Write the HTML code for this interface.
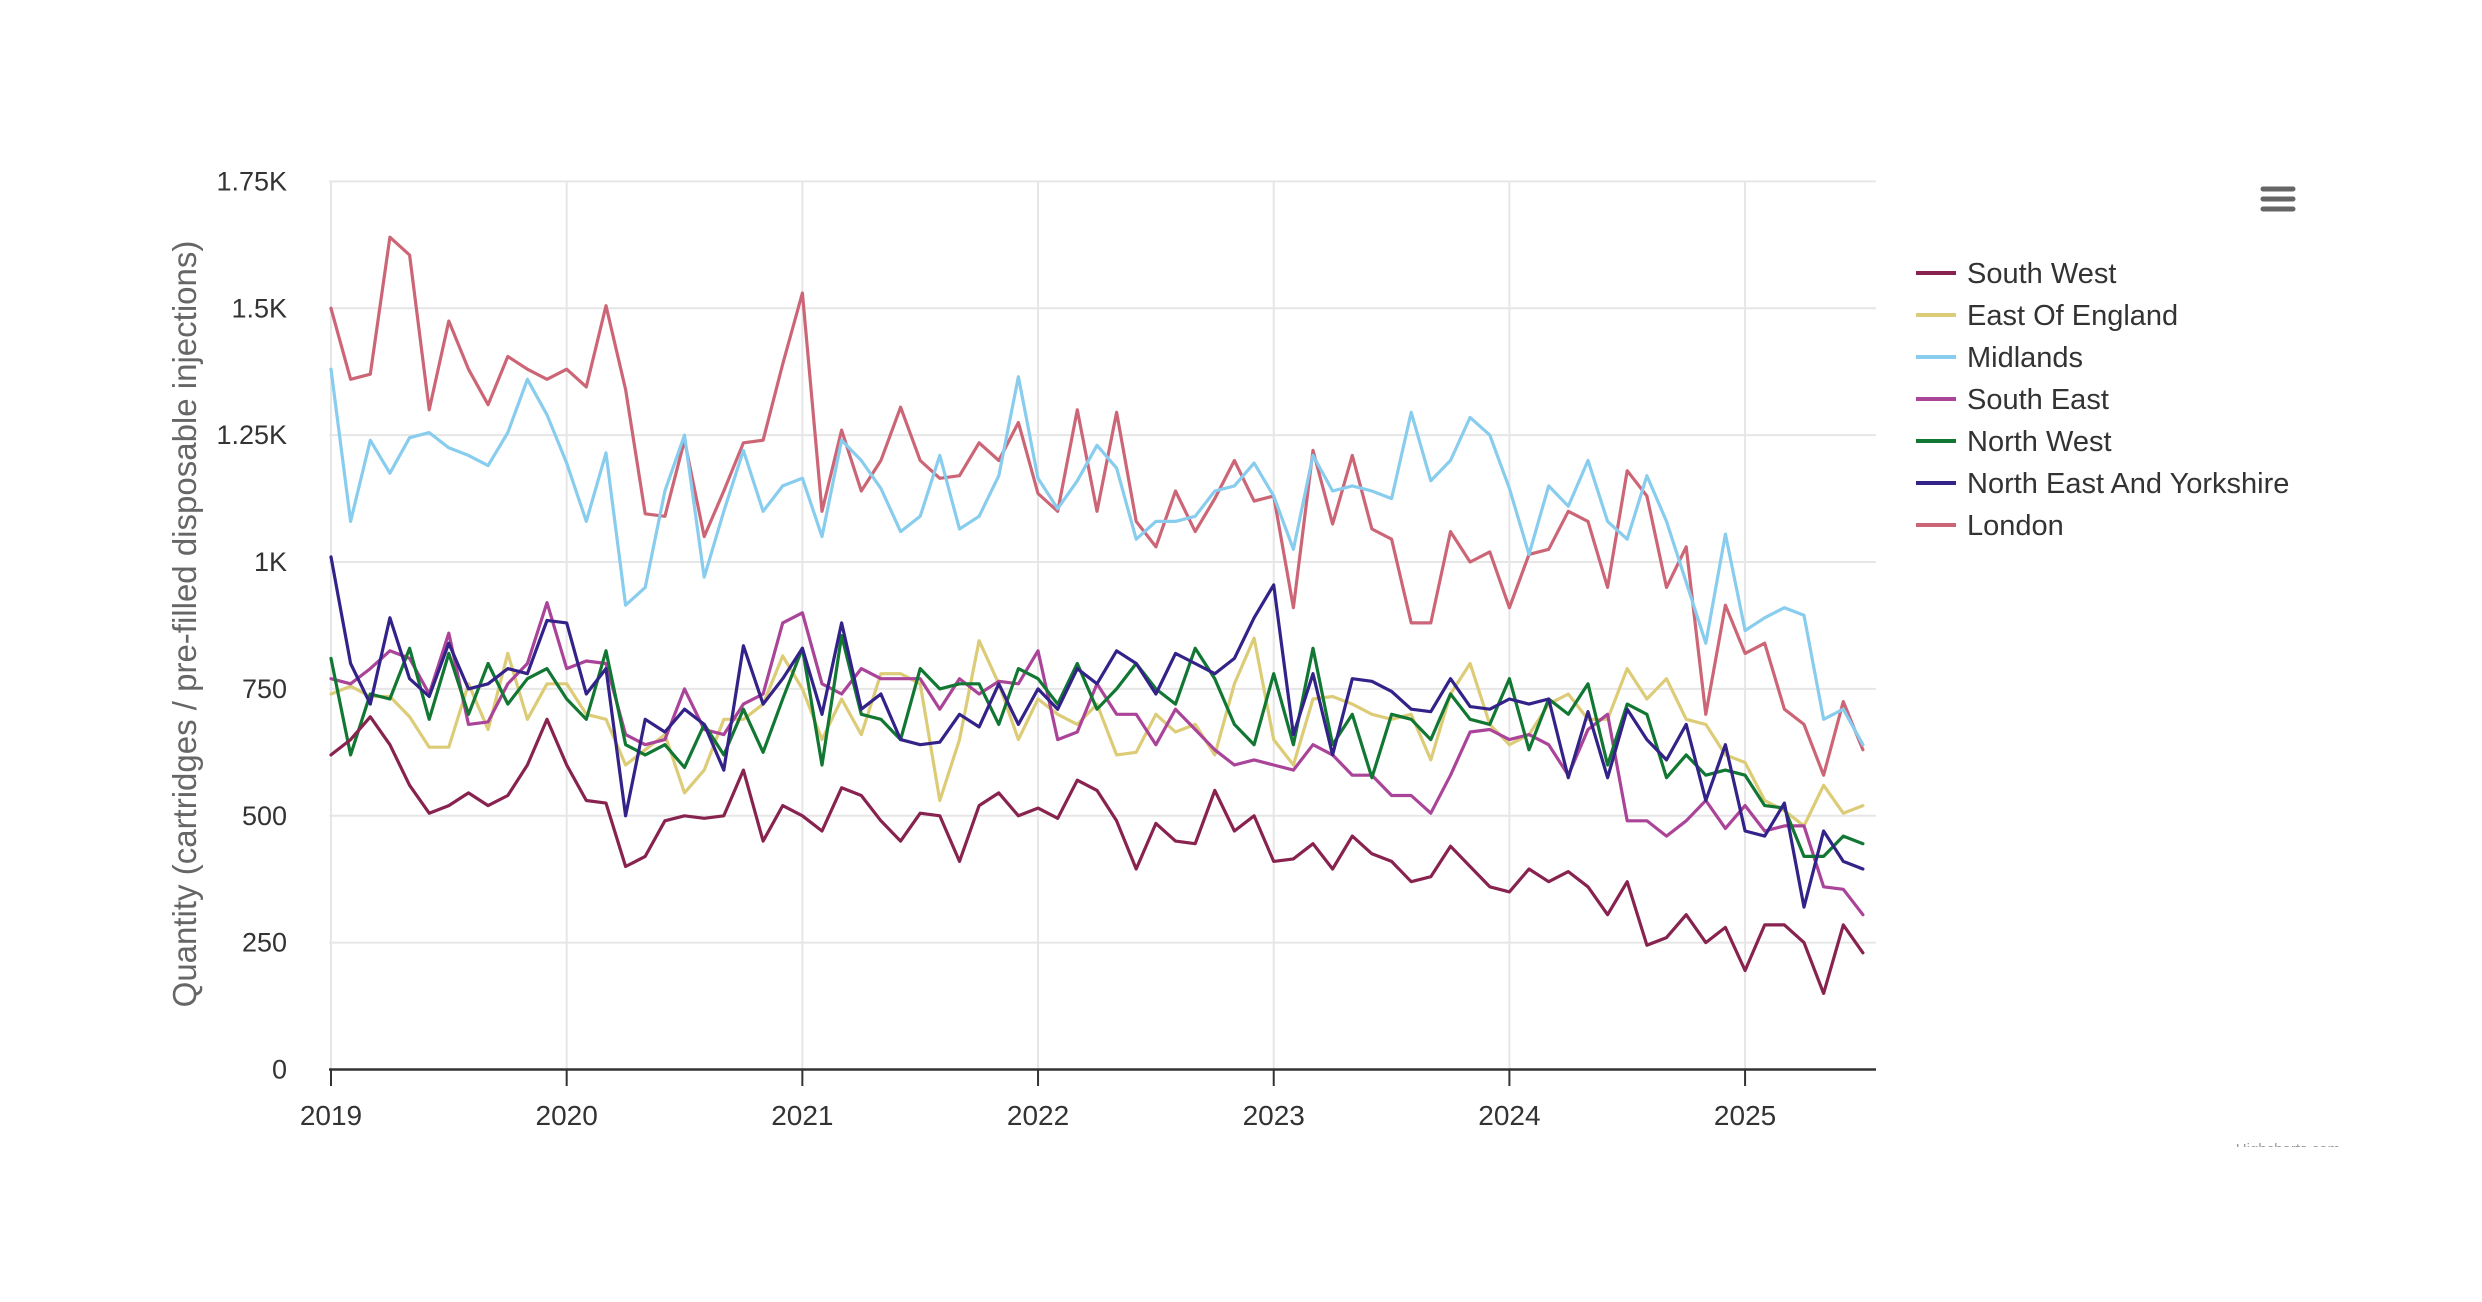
<!DOCTYPE html>
<html><head><meta charset="utf-8"><style>
html,body{margin:0;padding:0;background:#fff;}
svg{display:block;font-family:"Liberation Sans",sans-serif;}
</style></head><body>
<svg id="c" width="2482" height="1302" viewBox="0 0 2482 1302" xmlns="http://www.w3.org/2000/svg">
<rect width="2482" height="1302" fill="#fff"/>
<g id="grid" stroke="#e6e6e6" stroke-width="2"></g>
<g id="series" fill="none" stroke-width="3.2" stroke-linejoin="round" stroke-linecap="round"></g>
<line x1="329" y1="1069.5" x2="1876" y2="1069.5" stroke="#333" stroke-width="2.5"/>
<g id="ticks" stroke="#333" stroke-width="2"></g>
<g id="ylab" font-size="27" fill="#333" text-anchor="end"></g>
<g id="xlab" font-size="28" fill="#333" text-anchor="middle"></g>
<text transform="translate(196,624) rotate(-90)" text-anchor="middle" font-size="33" fill="#666">Quantity (cartridges / pre-filled disposable injections)</text>
<g font-size="29" fill="#333">
<line x1="1916" y1="273" x2="1956" y2="273" stroke="#88224f" stroke-width="4"/><text x="1967" y="283">South West</text>
<line x1="1916" y1="315" x2="1956" y2="315" stroke="#ddcc77" stroke-width="4"/><text x="1967" y="325">East Of England</text>
<line x1="1916" y1="357" x2="1956" y2="357" stroke="#88ccee" stroke-width="4"/><text x="1967" y="367">Midlands</text>
<line x1="1916" y1="399" x2="1956" y2="399" stroke="#aa4499" stroke-width="4"/><text x="1967" y="409">South East</text>
<line x1="1916" y1="441" x2="1956" y2="441" stroke="#117733" stroke-width="4"/><text x="1967" y="451">North West</text>
<line x1="1916" y1="483" x2="1956" y2="483" stroke="#332288" stroke-width="4"/><text x="1967" y="493">North East And Yorkshire</text>
<line x1="1916" y1="525" x2="1956" y2="525" stroke="#cc6677" stroke-width="4"/><text x="1967" y="535">London</text>
</g>
<g stroke="#666" stroke-width="5" stroke-linecap="round">
<line x1="2263" y1="189" x2="2293" y2="189"/><line x1="2263" y1="199" x2="2293" y2="199"/><line x1="2263" y1="209" x2="2293" y2="209"/>
</g>
<text x="2340" y="1154" font-size="15" fill="#999" text-anchor="end">Highcharts.com</text>
<rect x="2150" y="1147" width="250" height="20" fill="#fff"/>
</svg>
<script>
var NS="http://www.w3.org/2000/svg";
function el(p,t,a,txt){var e=document.createElementNS(NS,t);for(var k in a)e.setAttribute(k,a[k]);if(txt!==undefined)e.textContent=txt;document.getElementById(p).appendChild(e);}
var X0=331,DX=19.64,Y0=1069.5,SY=(1069.5-181.4)/1750;
function X(i){return X0+i*DX} function Y(v){return Y0-v*SY}
var yl=["0","250","500","750","1K","1.25K","1.5K","1.75K"];
for(var k=0;k<8;k++){var y=Y(k*250);if(k>0)el("grid","line",{x1:329,x2:1876,y1:y,y2:y});el("ylab","text",{x:287,y:y+9},yl[k]);}
for(var j=0;j<7;j++){var x=X(j*12);el("grid","line",{x1:x,x2:x,y1:181,y2:1070});el("ticks","line",{x1:x,x2:x,y1:1070,y2:1086});el("xlab","text",{x:x,y:1125},String(2019+j));}
var D={
"#cc6677":[1500,1360,1370,1640,1605,1300,1475,1380,1310,1405,1380,1360,1380,1345,1505,1340,1095,1090,1240,1050,1140,1235,1240,1390,1530,1100,1260,1140,1200,1305,1200,1165,1170,1235,1200,1275,1135,1100,1300,1100,1295,1080,1030,1140,1060,1125,1200,1120,1130,910,1220,1075,1210,1065,1045,880,880,1060,1000,1020,910,1015,1025,1100,1080,950,1180,1130,950,1030,700,915,820,840,710,680,580,725,630],
"#88ccee":[1380,1080,1240,1175,1245,1255,1225,1210,1190,1255,1360,1290,1195,1080,1215,915,950,1140,1250,970,1100,1220,1100,1150,1165,1050,1240,1200,1145,1060,1090,1210,1065,1090,1170,1365,1165,1105,1160,1230,1185,1045,1080,1080,1090,1140,1150,1195,1130,1025,1210,1140,1150,1140,1125,1295,1160,1200,1285,1250,1145,1015,1150,1110,1200,1080,1045,1170,1080,960,840,1055,865,890,910,895,690,710,640],
"#ddcc77":[740,755,735,735,695,635,635,760,670,820,690,760,760,700,690,600,630,660,545,590,690,690,720,815,750,650,730,660,780,780,760,530,650,845,760,650,730,700,680,720,620,625,700,665,680,620,760,850,650,600,730,735,720,700,690,700,610,740,800,680,640,660,720,740,690,690,790,730,770,690,680,620,605,530,510,480,560,505,520],
"#aa4499":[770,760,790,825,810,740,860,680,685,760,800,920,790,805,800,660,640,650,750,670,660,720,740,880,900,760,740,790,770,770,770,710,770,740,765,760,825,650,665,760,700,700,640,710,670,630,600,610,600,590,640,620,580,580,540,540,505,580,665,670,650,660,640,580,670,700,490,490,460,490,530,475,520,470,480,480,360,355,305],
"#117733":[810,620,740,730,830,690,820,700,800,720,770,790,730,690,825,640,620,640,595,680,620,710,625,730,830,600,855,700,690,650,790,750,760,760,680,790,770,720,800,710,750,800,750,720,830,770,680,640,780,640,830,640,700,575,700,690,650,740,690,680,770,630,730,700,760,600,720,700,575,620,580,590,580,520,515,420,420,460,445],
"#332288":[1010,800,720,890,770,735,840,750,760,790,780,885,880,740,790,500,690,665,710,680,590,835,720,770,830,700,880,710,740,650,640,645,700,675,760,680,750,710,790,760,825,800,740,820,800,780,810,890,955,660,780,620,770,765,745,710,705,770,715,710,730,720,730,575,705,575,710,650,610,680,530,640,470,460,525,320,470,410,395],
"#88224f":[620,650,695,640,560,505,520,545,520,540,600,690,600,530,525,400,420,490,500,495,500,590,450,520,500,470,555,540,490,450,505,500,410,520,545,500,515,495,570,550,490,395,485,450,445,550,470,500,410,415,445,395,460,425,410,370,380,440,400,360,350,395,370,390,360,305,370,245,260,305,250,280,195,285,285,250,150,285,230]
};
var order=["#cc6677","#88ccee","#ddcc77","#aa4499","#117733","#332288","#88224f"];
order.forEach(function(c){var p=D[c].map(function(v,i){return X(i).toFixed(1)+","+Y(v).toFixed(1)}).join(" ");el("series","polyline",{points:p,stroke:c});});
</script>
</body></html>
